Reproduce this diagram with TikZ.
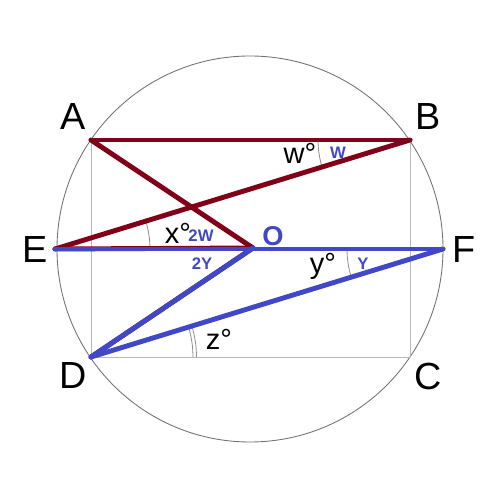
\documentclass[tikz,border=0pt]{standalone}
\usepackage{fontspec}
\setmainfont{Liberation Sans}
\usepackage{xcolor}
\usepackage{tikz}
\usetikzlibrary{angles}

\definecolor{chordred}{RGB}{128,0,24}
\definecolor{chordblue}{RGB}{64,72,200}

\begin{document}
\begin{tikzpicture}[
    x=0.02cm, y=0.02cm,
    thinline/.style={draw=black!28, line width=0.55pt},
    redline/.style={draw=chordred, line width=2.8pt, line cap=round},
    blueline/.style={draw=chordblue, line width=2.8pt, line cap=round},
    vertex/.style={font=\fontsize{21.5}{24}\selectfont},
    angtext/.style={font=\fontsize{16.5}{19}\selectfont},
    bluetext/.style={text=chordblue, font=\fontsize{9.5}{11}\selectfont\bfseries},
    arcline/.style={draw=black!45, line width=0.45pt}
]
    \useasboundingbox (0,0) rectangle (499,499);

    % Points
    \coordinate (A) at (91,359);
    \coordinate (B) at (410,359);
    \coordinate (C) at (410,142);
    \coordinate (D) at (91,142);
    \coordinate (E) at (55,250);
    \coordinate (F) at (443,250);
    \coordinate (O) at (253,251);
    \coordinate (M) at (250,250);

    % Circle and rectangle
    \draw[draw=black!55, line width=0.5pt] (M) circle (193);
    \draw[thinline] (A) -- (D) -- (C) -- (B);

    % Angle arcs
    \pic[arcline, angle radius=1.84cm] {angle = A--B--E};
    \pic[arcline, angle radius=1.9cm] {angle = O--E--B};
    \pic[arcline, angle radius=1.92cm] {angle = E--F--D};
    \pic[arcline, angle radius=2.04cm] {angle = C--D--F};
    \pic[arcline, angle radius=2.11cm] {angle = C--D--F};

    % Red chords
    \draw[redline] (A) -- (B);
    \draw[redline] (A) -- (O);
    \draw[redline] (E) -- (B);
    \draw[redline, yshift=2.5] (E) -- (O);
    \draw[redline, xshift=2, yshift=-1.5] (D) -- (O);

    % Blue chords
    \draw[blueline] (E) -- (F);
    \draw[blueline] (D) -- (O);
    \draw[blueline] (D) -- (F);

    % Vertex labels
    \node[vertex] (lA) at (73,382) {A};
    \node[vertex] (lB) at (428,382) {B};
    \node[vertex] (lC) at (428,123) {C};
    \node[vertex] (lD) at (73,123) {D};
    \node[vertex] (lE) at (35,249) {E};
    \node[vertex] (lF) at (464,249) {F};
    \node[text=chordblue, font=\fontsize{15.5}{17}\selectfont\bfseries] (lO) at (273,263) {O};

    % Angle labels
    \node[angtext] (lw) at (300,346) {w°};
    \node[angtext] (lx) at (178,266) {x°};
    \node[angtext] (ly) at (323,233) {y°};
    \node[angtext] (lz) at (219,160) {z°};
    \node[bluetext] (bw) at (338,346) {W};
    \node[bluetext] (b2w) at (201,263) {2W};
    \node[bluetext] (b2y) at (202,235) {2Y};
    \node[bluetext] (by) at (363,235) {Y};
\end{tikzpicture}
\end{document}
